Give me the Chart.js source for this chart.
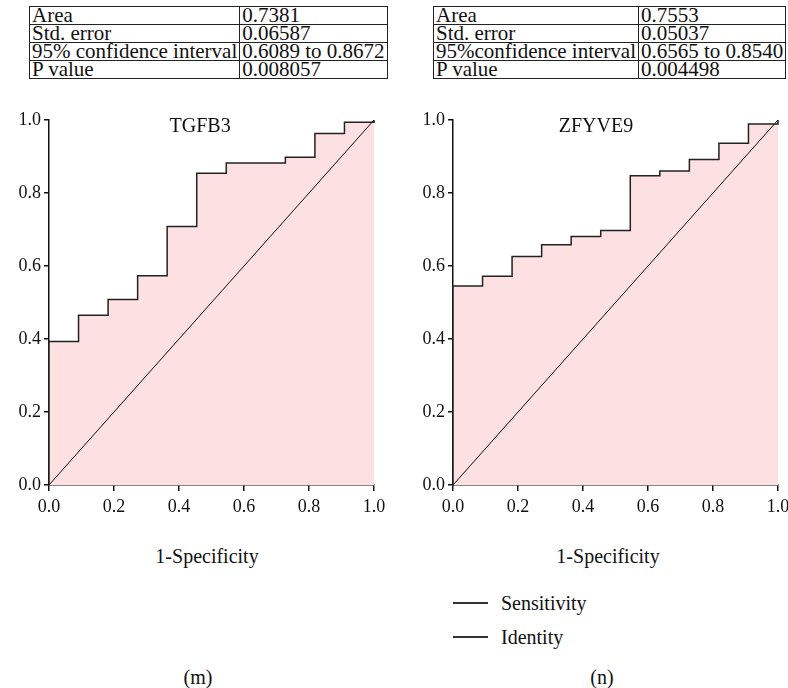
<!DOCTYPE html>
<html>
<head>
<meta charset="utf-8">
<script src="https://cdn.jsdelivr.net/npm/chart.js@4.4.1/dist/chart.umd.min.js"></script>
<style>
  html, body { margin: 0; padding: 0; background: #fff; }
  body { width: 788px; height: 688px; position: relative; overflow: hidden;
         font-family: "Liberation Serif", "DejaVu Serif", serif; color: #111; }
  .stats { position: absolute; top: 6px; border-collapse: collapse; font-size: 21px; }
  .stats td { border: 1.5px solid #222; padding: 0 2px; height: 17px; line-height: 17px; white-space: nowrap; }
  .box { position: absolute; }
  .lbl { position: absolute; font-size: 20px; line-height: 20px; text-align: center; white-space: nowrap; }
  .key { position: absolute; width: 35px; height: 1.5px; background: #333; }
</style>
</head>
<body>
<table class="stats" id="tabM" style="left:29px;width:352px"></table>
<table class="stats" id="tabN" style="left:433px;width:348px"></table>

<div class="box" style="left:0;top:100px;width:394px;height:430px"><canvas id="rocM"></canvas></div>
<div class="box" style="left:404px;top:100px;width:394px;height:430px"><canvas id="rocN"></canvas></div>

<div class="lbl" style="left:107px;top:546px;width:200px">1-Specificity</div>
<div class="lbl" style="left:508px;top:546px;width:200px">1-Specificity</div>

<div class="key" style="left:453px;top:602px"></div>
<div class="lbl" style="left:501px;top:593px;text-align:left">Sensitivity</div>
<div class="key" style="left:453px;top:636px"></div>
<div class="lbl" style="left:501px;top:627px;text-align:left">Identity</div>

<div class="lbl" style="left:148px;top:667px;width:100px">(m)</div>
<div class="lbl" style="left:552px;top:667px;width:100px">(n)</div>

<script>
// ROC summary tables
const statNames = ["Area", "Std. error", "95% confidence interval", "P value"];
const statNamesN = ["Area", "Std. error", "95%confidence interval", "P value"];
const statsM = ["0.7381", "0.06587", "0.6089 to 0.8672", "0.008057"];
const statsN = ["0.7553", "0.05037", "0.6565 to 0.8540", "0.004498"];

// TGFB3 curve (1-specificity, sensitivity)
const fprM = [0, 0, 0.0909, 0.1818, 0.2727, 0.3636, 0.4545, 0.5455, 0.7273, 0.8182, 0.9091, 1.0];
const sensM = [0, 0.393, 0.465, 0.508, 0.573, 0.708, 0.854, 0.882, 0.898, 0.963, 0.994, 1.0];

// ZFYVE9 curve
const fprN = [0, 0, 0.0909, 0.1818, 0.2727, 0.3636, 0.4545, 0.5455, 0.6364, 0.7273, 0.8182, 0.9091, 1.0];
const sensN = [0, 0.545, 0.572, 0.626, 0.658, 0.681, 0.697, 0.847, 0.860, 0.892, 0.936, 0.989, 1.0];

// reference diagonal
const identX = [0, 1];
const identY = [0, 1];

const serif = '"Liberation Serif", "DejaVu Serif", serif';

function fillTable(id, names, values) {
    const tab = document.getElementById(id);
    names.forEach((n, i) => {
        const tr = document.createElement("tr");
        const a = document.createElement("td");
        const b = document.createElement("td");
        a.textContent = n;
        b.textContent = values[i];
        a.style.width = "206px";
        tr.appendChild(a);
        tr.appendChild(b);
        tab.appendChild(tr);
    });
}
fillTable("tabM", statNames, statsM);
fillTable("tabN", statNamesN, statsN);

function pts(xs, ys) {
    return xs.map((x, i) => ({ x: x, y: ys[i] }));
}

// gene name written inside the plot, near the top
const innerTitle = {
    id: "innerTitle",
    afterDatasetsDraw(chart, args, opts) {
        const a = chart.chartArea;
        const ctx = chart.ctx;
        ctx.save();
        ctx.font = "20px " + serif;
        ctx.fillStyle = "#111";
        ctx.textAlign = "center";
        ctx.textBaseline = "middle";
        ctx.fillText(opts.text, a.left + (a.right - a.left) * opts.pos, a.top + 7);
        ctx.restore();
    }
};

function axis(w, isY) {
    return {
        type: "linear",
        min: 0,
        max: 1,
        border: { display: true, color: "#111", width: 1.5 },
        grid: { drawOnChartArea: false, drawTicks: true, tickLength: isY ? 5 : 6, color: "#111", lineWidth: 1.5 },
        ticks: {
            stepSize: 0.2,
            color: "#111",
            padding: isY ? 3 : 5,
            font: { family: serif, size: 18 },
            callback: v => v.toFixed(1)
        },
        afterFit: s => { if (isY) s.width = w; else s.height = w; }
    };
}

function drawRoc(id, xs, ys, name, pos) {
    new Chart(document.getElementById(id), {
        type: "line",
        data: {
            datasets: [
                {
                    label: "Identity",
                    data: pts(identX, identY),
                    borderColor: "#111",
                    borderWidth: 1,
                    pointRadius: 0,
                    fill: false,
                    order: 0
                },
                {
                    label: "Sensitivity",
                    data: pts(xs, ys),
                    // horizontal run first, then the rise
                    stepped: "before",
                    borderColor: "#222",
                    borderWidth: 1.5,
                    backgroundColor: "rgb(253, 224, 226)",
                    pointRadius: 0,
                    fill: "origin",
                    clip: 3,
                    order: 1
                }
            ]
        },
        options: {
            responsive: true,
            maintainAspectRatio: false,
            animation: false,
            layout: { padding: { top: 20, right: 20, left: 0, bottom: 0 } },
            scales: { x: axis(45, false), y: axis(49, true) },
            plugins: {
                legend: { display: false },
                tooltip: { enabled: false },
                filler: { drawTime: "beforeDatasetsDraw" },
                innerTitle: { text: name, pos: pos }
            }
        },
        plugins: [innerTitle]
    });
}

drawRoc("rocM", fprM, sensM, "TGFB3", 0.465);
drawRoc("rocN", fprN, sensN, "ZFYVE9", 0.44);
</script>
</body>
</html>
